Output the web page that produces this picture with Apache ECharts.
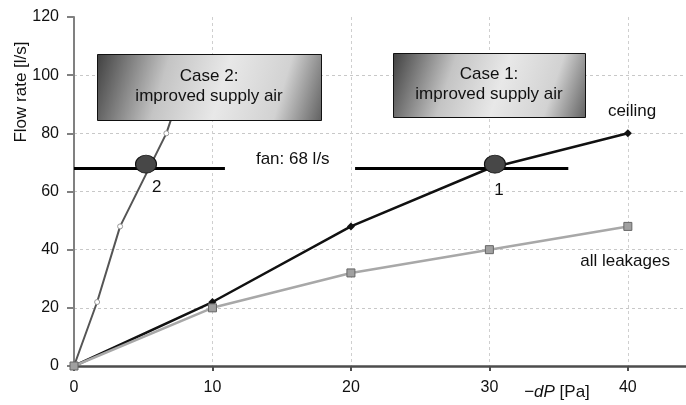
<!DOCTYPE html>
<html>
<head>
<meta charset="utf-8">
<script src="https://cdn.jsdelivr.net/npm/echarts@6/dist/echarts.min.js"></script>
<style>
html,body{margin:0;padding:0;background:#fff;}
#c{width:686px;height:405px;}
</style>
</head>
<body>
<div id="c"></div>
<script>
// ---- data ----
var xTicks = [0, 10, 20, 30, 40];
var yTicks = [0, 20, 40, 60, 80, 100, 120];
var case2X = [0, 1.67, 3.33, 6.67, 8.3];
var case2Y = [0, 22, 48, 80, 103];
var ceilingX = [0, 10, 20, 30, 40];
var ceilingY = [0, 22, 48, 68, 80];
var leakX = [0, 10, 20, 30, 40];
var leakY = [0, 20, 32, 40, 48];
var fanFlow = 68;
var fanSegments = [[0, 10.9], [20.3, 35.7]];
var operatingPoints = [[5.2, 69.4, '2'], [30.4, 69.4, '1']];
var boxes = [
  {x1: 1.66, y1: 107.2, x2: 17.85, y2: 84.6, lines: ['Case 2:', 'improved supply air']},
  {x1: 23.05, y1: 107.5, x2: 36.9, y2: 85.6, lines: ['Case 1:', 'improved supply air']}
];
var notes = [
  {text: 'fan: 68 l/s', x: 15.8, y: 70.9},
  {text: 'ceiling', x: 40.3, y: 87.7},
  {text: 'all leakages', x: 39.8, y: 36, bg: true}
];
var pointLabelPos = [[5.97, 61.6], [30.7, 60.3]];

function zip(a, b) { return a.map(function (v, i) { return [v, b[i]]; }); }

var FONT = 'Liberation Sans, Arial, sans-serif';
var chart = echarts.init(document.getElementById('c'), null, {renderer: 'canvas'});

var splitColors = yTicks.map(function (v, i) { return i === yTicks.length - 1 ? 'rgba(0,0,0,0)' : '#c8c8c8'; });

var option = {
  animation: false,
  backgroundColor: '#fff',
  grid: {left: 74, right: 0, top: 17, bottom: 39, containLabel: false},
  xAxis: {
    type: 'value', min: 0, max: 44.2, interval: 10,
    axisLine: {lineStyle: {color: '#4d4d4d', width: 2.5}},
    axisTick: {show: true, length: 5, lineStyle: {color: '#4d4d4d', width: 2}, customValues: xTicks},
    axisLabel: {color: '#111', fontSize: 16, fontFamily: FONT, margin: 14, customValues: xTicks},
    splitLine: {show: true, lineStyle: {color: '#cfcfcf', type: [3, 3], width: 1}}
  },
  yAxis: {
    type: 'value', min: 0, max: 120, interval: 20,
    axisLine: {show: true, lineStyle: {color: '#808080', width: 2}},
    axisTick: {show: true, length: 7, lineStyle: {color: '#808080', width: 2}},
    axisLabel: {color: '#111', fontSize: 16, fontFamily: FONT, margin: 15},
    splitLine: {show: true, lineStyle: {color: splitColors, type: [3, 3], width: 1}}
  },
  series: [
    {
      name: 'case2', type: 'line', data: zip(case2X, case2Y),
      lineStyle: {color: '#555', width: 2, type: 'solid'},
      symbol: 'circle', symbolSize: 5, showAllSymbol: true,
      itemStyle: {color: '#fff', borderColor: '#999', borderWidth: 1},
      z: 2
    },
    {
      name: 'ceiling', type: 'line', data: zip(ceilingX, ceilingY),
      lineStyle: {color: '#111', width: 2.5, type: 'solid'},
      symbol: 'diamond', symbolSize: 8,
      itemStyle: {color: '#111'},
      z: 3
    },
    {
      name: 'leakages', type: 'line', data: zip(leakX, leakY),
      lineStyle: {color: '#a8a8a8', width: 2.5, type: 'solid'},
      symbol: 'rect', symbolSize: 8,
      itemStyle: {color: '#a0a0a0', borderColor: '#666', borderWidth: 1},
      z: 4
    },
    {
      name: 'fan', type: 'line', data: [], z: 5,
      markLine: {
        silent: true, symbol: 'none', animation: false,
        lineStyle: {color: '#000', width: 2.8, type: 'solid'},
        label: {show: false},
        data: fanSegments.map(function (s) { return [{coord: [s[0], fanFlow]}, {coord: [s[1], fanFlow]}]; })
      },
      markPoint: {
        silent: true, animation: false,
        data: operatingPoints.map(function (p) {
          return {coord: [p[0], p[1]], symbol: 'circle', symbolSize: [21, 18],
            itemStyle: {color: '#474747', borderColor: '#111', borderWidth: 1},
            label: {show: false}};
        }).concat(operatingPoints.map(function (p, i) {
          return {coord: pointLabelPos[i], symbol: 'circle', symbolSize: 0,
            label: {show: true, position: 'inside', formatter: p[2], color: '#111', fontSize: 17, fontFamily: FONT}};
        })).concat(notes.map(function (n) {
          var lab = {show: true, position: 'inside', formatter: n.text, color: '#111', fontSize: 17, fontFamily: FONT};
          if (n.bg) { lab.backgroundColor = '#fff'; lab.padding = [1, 3]; }
          return {coord: [n.x, n.y], symbol: 'circle', symbolSize: 0, label: lab};
        }))
      }
    }
  ]
};
chart.setOption(option);

function px(x, y) { return chart.convertToPixel({gridIndex: 0}, [x, y]); }

var graphics = [];
boxes.forEach(function (b) {
  var p1 = px(b.x1, b.y1), p2 = px(b.x2, b.y2);
  var w = p2[0] - p1[0], h = p2[1] - p1[1];
  graphics.push({
    type: 'rect', z: 100,
    shape: {x: Math.round(p1[0]) + 0.5, y: Math.round(p1[1]) + 0.5, width: Math.round(w), height: Math.round(h)},
    style: {
      fill: new echarts.graphic.LinearGradient(0, 0, 1, 1, [
        {offset: 0, color: '#404040'},
        {offset: 0.3, color: '#c4c4c4'},
        {offset: 0.55, color: '#e8e8e8'},
        {offset: 0.8, color: '#d2d2d2'},
        {offset: 1, color: '#606060'}
      ]),
      stroke: '#111', lineWidth: 1
    }
  });
  graphics.push({
    type: 'text', z: 101,
    x: p1[0] + w / 2, y: p1[1] + h / 2 - 1,
    style: {text: b.lines.join('\n'), fill: '#111', font: '17px ' + FONT, align: 'center', verticalAlign: 'middle', lineHeight: 20}
  });
});
// axis titles
graphics.push({
  type: 'text', z: 100, x: 21, y: 92, rotation: Math.PI / 2,
  style: {text: 'Flow rate [l/s]', fill: '#111', font: '17px ' + FONT, align: 'center', verticalAlign: 'middle'}
});
graphics.push({
  type: 'text', z: 100, x: 557, y: 392,
  style: {
    text: '{n|\u2212}{it|dP}{n| [Pa]}', align: 'center', verticalAlign: 'middle',
    rich: {
      n: {fill: '#111', fontSize: 17, fontFamily: FONT},
      it: {fill: '#111', fontSize: 17, fontFamily: FONT, fontStyle: 'italic'}
    }
  }
});
chart.setOption({graphic: graphics});
</script>
</body>
</html>
